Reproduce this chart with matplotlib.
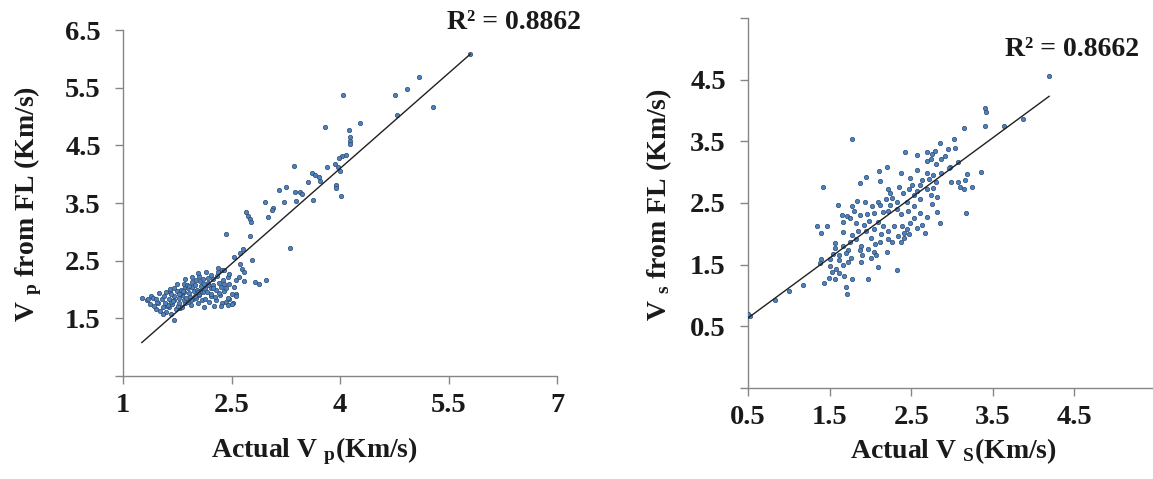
import matplotlib
matplotlib.use('Agg')
import matplotlib.pyplot as plt
import numpy as np

plt.rcParams['font.family'] = ['Liberation Serif', 'DejaVu Serif']
plt.rcParams['font.weight'] = 'bold'
plt.rcParams['mathtext.fontset'] = 'custom'
plt.rcParams['mathtext.rm'] = 'Liberation Serif:bold'
plt.rcParams['mathtext.bf'] = 'Liberation Serif:bold'
plt.rcParams['mathtext.it'] = 'Liberation Serif:bold'

# ---- left panel: Vp (actual vs predicted) ----
vp_actual = [
    5.80, 5.09, 4.92, 4.76, 5.29, 4.79, 4.04, 3.79, 4.28, 4.12, 4.14, 4.14, 4.14,
    4.08, 4.03, 3.98, 3.93, 3.97, 4.00, 3.37, 3.82, 3.61, 3.66, 3.71, 3.73, 3.56,
    3.94, 3.95, 4.01, 3.25, 3.15, 3.38, 3.45, 3.47, 3.39, 3.62, 3.23, 2.96, 3.08,
    3.06, 3.01, 2.70, 2.73, 2.76, 2.77, 2.43, 2.76, 3.31, 2.66, 2.62, 2.78, 2.53,
    2.62, 2.65, 2.67, 2.98, 2.83, 2.88, 2.60, 2.67, 2.37, 2.32, 1.26, 1.39, 1.65,
    1.70, 2.52, 2.56,
    1.45, 1.51, 1.59, 1.63, 1.67, 1.73, 1.79, 1.61,
    1.37, 1.43, 1.48, 1.55, 1.62, 1.68, 1.76, 1.81, 1.86, 1.94, 2.26, 2.37, 2.51,
    1.33, 1.47, 1.54, 1.66, 1.71, 1.78, 1.85, 1.90, 1.97, 2.03, 2.09, 2.19, 2.29,
    2.43, 2.47,
    1.41, 1.56, 1.63, 1.70, 1.77, 1.82, 1.87, 1.93, 2.01, 2.05, 2.14, 2.21, 2.27,
    2.34, 2.45, 2.56,
    1.50, 1.59, 1.67, 1.74, 1.79, 1.84, 1.91, 1.98, 2.05, 2.11, 2.16, 2.22, 2.33,
    2.39, 2.51,
    1.65, 1.71, 1.80, 1.86, 1.90, 1.96, 2.02, 2.08, 2.14, 2.22, 2.28, 2.35, 2.43,
    2.54,
    1.75, 1.84, 1.88, 1.96, 2.00, 2.07, 2.12, 2.18, 2.25, 2.33, 2.40, 2.47,
    1.86, 1.95, 2.01, 2.05, 2.11, 2.18, 2.25, 2.30, 2.38, 2.45, 2.56,
    2.04, 2.15, 2.21, 2.31, 2.39, 2.46,
    2.12, 2.35, 2.45, 1.55, 1.35, 1.45,
    1.83, 1.91, 1.99, 2.06, 2.17, 1.78, 1.94, 2.03, 2.24, 1.69, 1.58,
]
vp_pred = [
    6.08, 5.68, 5.47, 5.37, 5.17, 5.02, 5.37, 4.82, 4.88, 4.77, 4.64, 4.57, 4.52,
    4.33, 4.31, 4.28, 4.18, 4.12, 4.05, 4.14, 4.12, 4.02, 3.99, 3.95, 3.89, 3.86,
    3.81, 3.76, 3.63, 3.77, 3.73, 3.69, 3.69, 3.66, 3.54, 3.55, 3.52, 3.52, 3.41,
    3.38, 3.25, 3.34, 3.28, 3.22, 3.17, 2.96, 2.93, 2.72, 2.70, 2.64, 2.51, 2.56,
    2.44, 2.36, 2.30, 2.17, 2.13, 2.09, 2.21, 2.15, 2.34, 2.38, 1.86, 1.89, 1.95,
    1.47, 1.77, 1.92,
    1.67, 1.63, 1.61, 1.69, 1.58, 1.66, 1.68, 1.71,
    1.75, 1.71, 1.77, 1.70, 1.73, 1.75, 1.72, 1.70, 1.76, 1.73, 1.72, 1.77, 1.74,
    1.81, 1.79, 1.83, 1.78, 1.82, 1.77, 1.81, 1.79, 1.84, 1.77, 1.82, 1.79, 1.81,
    1.78, 1.83,
    1.86, 1.88, 1.84, 1.89, 1.85, 1.90, 1.86, 1.87, 1.85, 1.91, 1.84, 1.89, 1.87,
    1.90, 1.85, 1.88,
    1.94, 1.96, 1.92, 1.97, 1.93, 1.95, 1.94, 1.97, 1.92, 1.96, 1.95, 1.93, 1.94,
    1.97, 1.93,
    2.01, 2.03, 1.99, 2.05, 2.02, 2.04, 2.00, 2.06, 2.02, 2.03, 1.99, 2.04, 2.02,
    2.05,
    2.09, 2.10, 2.07, 2.13, 2.08, 2.14, 2.10, 2.11, 2.07, 2.12, 2.09, 2.10,
    2.18, 2.21, 2.16, 2.23, 2.18, 2.20, 2.19, 2.24, 2.17, 2.22, 2.16,
    2.28, 2.31, 2.26, 2.30, 2.33, 2.27,
    1.70, 1.72, 1.73, 1.58, 1.84, 1.84,
    1.98, 2.06, 1.89, 1.97, 2.08, 1.92, 1.81, 1.95, 2.02, 1.80, 1.77,
]
vp_trend_x = [1.26, 5.80]
vp_trend_y = [1.08, 6.08]
vp_r2 = 'R² = 0.8862'

# ---- right panel: Vs (actual vs predicted) ----
vs_actual = [
    3.15, 3.40, 1.77, 2.85, 3.02, 2.95, 3.04, 2.79,
    2.42, 2.57, 2.69, 2.76, 2.74, 2.69, 2.86, 2.91, 2.80, 3.07, 2.97,
    2.20, 2.10, 2.37, 2.57, 2.69, 2.77, 2.86, 2.96, 3.18, 3.35,
    1.95, 2.12, 1.87, 2.49, 2.63, 2.72, 2.80, 2.99, 3.07, 3.16, 2.61, 2.51,
    1.42, 2.22, 2.35, 2.47, 2.57, 2.69, 2.77, 3.10, 3.15, 3.25, 2.24, 2.40, 2.54,
    2.74, 2.82,
    1.84, 1.93, 2.09, 2.19, 2.27, 2.33, 2.45, 2.61, 2.75, 1.60, 1.78, 2.02, 2.12,
    2.24, 2.53, 2.32,
    1.65, 1.71, 1.80, 1.87, 1.96, 2.04, 2.15, 2.22, 2.37, 2.46, 2.61, 2.82, 3.17,
    2.69, 2.53, 1.75,
    1.35, 1.47, 1.66, 1.82, 1.92, 1.98, 2.09, 2.16, 2.29, 2.39, 2.49, 2.63, 2.85,
    2.57, 2.45,
    1.40, 1.67, 1.77, 1.85, 1.95, 2.04, 2.13, 2.22, 2.34, 2.41, 2.67, 1.82, 2.01,
    2.22, 2.41, 2.47,
    1.57, 1.66, 1.75, 1.89, 1.97, 2.06, 2.12, 2.27, 2.37, 1.57, 1.73, 1.87, 2.04,
    2.20,
    1.54, 1.62, 1.70, 1.76, 1.90, 2.01, 2.07, 1.40, 1.50, 1.62, 1.73, 1.88, 2.09,
    2.32, 1.38,
    1.50, 1.58, 1.66, 1.53, 1.62, 1.68, 1.49, 1.57, 1.43, 1.78, 1.97, 1.18,
    1.70, 1.71, 1.00, 0.83,
    3.41, 3.42, 3.64, 3.87, 4.19, 0.52, 0.50,
]
vs_pred = [
    3.71, 3.75, 3.54, 3.48, 3.53, 3.38, 3.39, 3.35,
    3.32, 3.28, 3.33, 3.30, 3.22, 3.18, 3.22, 3.26, 3.14, 3.16, 3.08,
    3.08, 3.02, 2.99, 3.03, 2.99, 2.95, 2.99, 3.06, 2.97, 3.00,
    2.92, 2.86, 2.83, 2.90, 2.88, 2.89, 2.84, 2.84, 2.84, 2.88, 2.79, 2.79,
    2.76, 2.73, 2.76, 2.73, 2.70, 2.73, 2.74, 2.76, 2.72, 2.76, 2.67, 2.67, 2.63,
    2.63, 2.60,
    2.54, 2.51, 2.52, 2.57, 2.58, 2.52, 2.52, 2.56, 2.49, 2.47, 2.45, 2.45, 2.47,
    2.46, 2.45, 2.41,
    2.31, 2.29, 2.37, 2.30, 2.32, 2.34, 2.35, 2.37, 2.32, 2.37, 2.34, 2.36, 2.34,
    2.27, 2.25, 2.25,
    2.13, 2.13, 2.19, 2.18, 2.15, 2.21, 2.19, 2.13, 2.12, 2.13, 2.18, 2.15, 2.18,
    2.10, 2.08,
    2.02, 2.03, 1.98, 2.05, 2.04, 2.08, 1.99, 2.04, 1.97, 2.02, 2.02, 1.92, 1.94,
    1.91, 1.93, 2.00,
    1.85, 1.81, 1.86, 1.81, 1.76, 1.84, 1.86, 1.86, 1.87, 1.77, 1.73, 1.73, 1.70,
    1.71,
    1.67, 1.66, 1.69, 1.61, 1.65, 1.60, 1.66, 1.59, 1.59, 1.57, 1.54, 1.55, 1.46,
    1.42, 1.53,
    1.48, 1.43, 1.50, 1.38, 1.37, 1.32, 1.29, 1.27, 1.20, 1.27, 1.26, 1.17,
    1.13, 1.02, 1.08, 0.93,
    4.04, 3.97, 3.75, 3.86, 4.56, 0.66, 0.70,
]
vs_trend_x = [0.50, 4.19]
vs_trend_y = [0.635, 4.23]
vs_r2 = 'R² = 0.8662'

W, H = 1153, 479
fig = plt.figure(figsize=(W / 100, H / 100), dpi=100)

pt_face = '#4F81BD'
pt_edge = '#2B4A73'
axis_grey = '#868686'
txt = '#1a1a1a'


def style_axes(ax):
    for side in ['top', 'right']:
        ax.spines[side].set_visible(False)
    for side in ['left', 'bottom']:
        ax.spines[side].set_color(axis_grey)
        ax.spines[side].set_linewidth(1.0)
    ax.tick_params(direction='out', length=6, width=1.0, color=axis_grey,
                   labelsize=20.5, labelcolor=txt)
    ax.tick_params(axis='y', pad=10)
    ax.tick_params(axis='x', pad=6)
    for lab in ax.get_xticklabels() + ax.get_yticklabels():
        lab.set_fontweight('bold')
    for ln in ax.get_xaxis().get_ticklines() + ax.get_yaxis().get_ticklines():
        ln.set_clip_on(False)


# left axes
ax1 = fig.add_axes([123 / W, 1 - 376 / H, (557 - 123) / W, (376 - 30) / H])
ax1.scatter(vp_actual, vp_pred, s=10, c=pt_face, edgecolors=pt_edge,
            linewidths=0.5, zorder=3)
ax1.plot(vp_trend_x, vp_trend_y, color='#202020', lw=1.0, zorder=4)
ax1.set_xlim(1, 7)
ax1.set_ylim(0.5, 6.5)
ax1.set_xticks([1, 2.5, 4, 5.5, 7])
ax1.set_xticklabels(['1', '2.5', '4', '5.5', '7'])
ax1.set_yticks([0.5, 1.5, 2.5, 3.5, 4.5, 5.5, 6.5])
ax1.set_yticklabels(['', '1.5', '2.5', '3.5', '4.5', '5.5', '6.5'])
style_axes(ax1)

# right axes
ax2 = fig.add_axes([748 / W, 1 - 388 / H, (1156 - 748) / W, (388 - 18) / H])
ax2.scatter(vs_actual, vs_pred, s=10, c=pt_face, edgecolors=pt_edge,
            linewidths=0.5, zorder=3)
ax2.plot(vs_trend_x, vs_trend_y, color='#202020', lw=1.0, zorder=4)
ax2.set_xlim(0.5, 5.5)
ax2.set_ylim(-0.5, 5.5)
ax2.set_xticks([0.5, 1.5, 2.5, 3.5, 4.5, 5.5])
ax2.set_xticklabels(['0.5', '1.5', '2.5', '3.5', '4.5', ''])
ax2.set_yticks([-0.5, 0.5, 1.5, 2.5, 3.5, 4.5, 5.5])
ax2.set_yticklabels(['', '0.5', '1.5', '2.5', '3.5', '4.5', ''])
style_axes(ax2)

# axis titles
fig.text(314 / W, 1 - 457 / H, r'Actual V $_{\mathbf{p}}$(Km/s)', ha='center',
         va='baseline', fontsize=20, fontweight='bold', color=txt)
fig.text(953 / W, 1 - 458 / H, r'Actual V $_{\mathbf{S}}$(Km/s)', ha='center',
         va='baseline', fontsize=20, fontweight='bold', color=txt)
fig.text(28 / W, 1 - 204 / H, r'V $_{\mathbf{p}}$ from FL (Km/s)', ha='center',
         va='center', rotation=90, fontsize=20, fontweight='bold', color=txt)
fig.text(659 / W, 1 - 205 / H, r'V $_{\mathbf{s}}$ from FL (Km/s)', ha='center',
         va='center', rotation=90, fontsize=20, fontweight='bold', color=txt)

# R-squared annotations
fig.text(447 / W, 1 - 29 / H, vp_r2, ha='left', va='baseline', fontsize=20,
         fontweight='bold', color=txt)
fig.text(1005 / W, 1 - 56 / H, vs_r2, ha='left', va='baseline', fontsize=20,
         fontweight='bold', color=txt)

fig.savefig('out.png', dpi=100)
